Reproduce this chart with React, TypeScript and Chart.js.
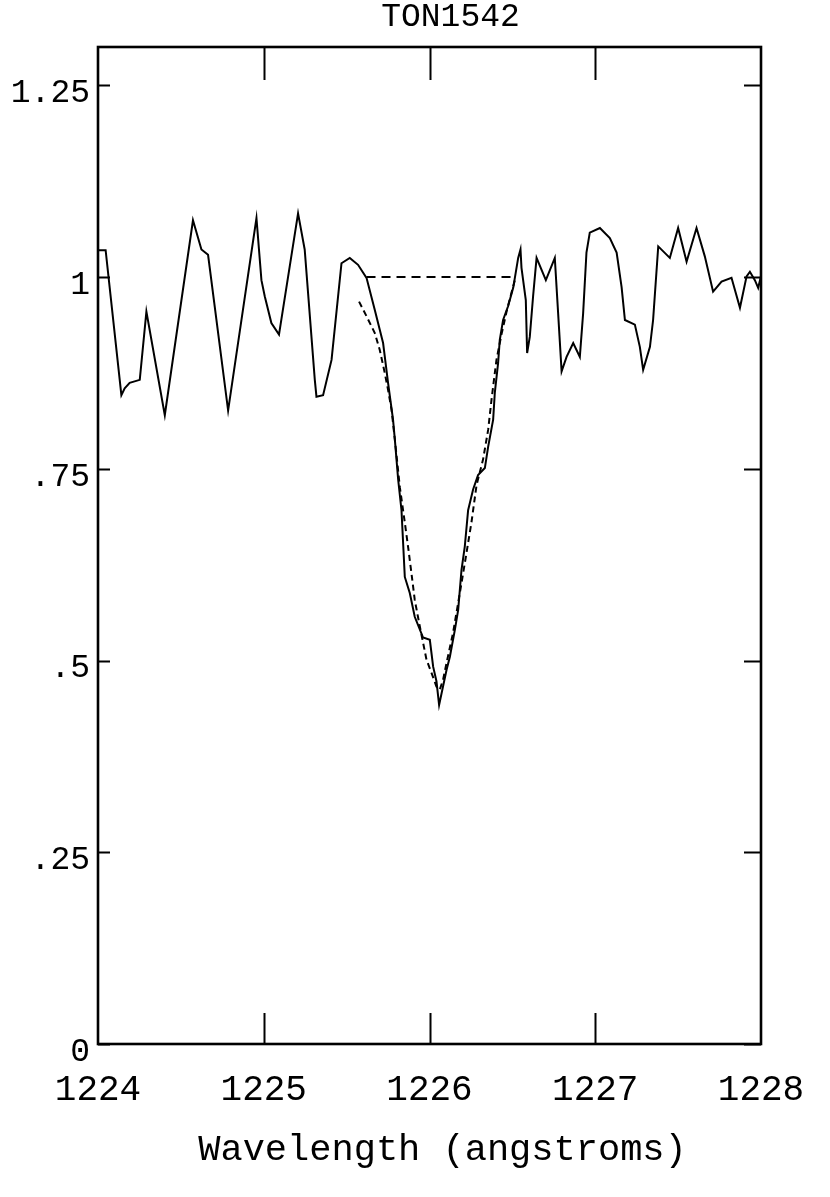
import React, { useEffect, useRef } from 'react';
import { Chart, registerables } from 'chart.js';

Chart.register(...registerables);

const chartTitle = 'TON1542';
const xAxisTitle = 'Wavelength (angstroms)';
const xTickValues = [1224, 1225, 1226, 1227, 1228];
const yTickValues = [0, 0.25, 0.5, 0.75, 1, 1.25];
const yTickLabels = ['0', '.25', '.5', '.75', '1', '1.25'];

const specWave = [
  1224.000, 1224.046, 1224.141, 1224.161, 1224.191, 1224.252, 1224.292, 1224.403, 1224.573, 1224.624,
  1224.664, 1224.785, 1224.956, 1224.986, 1225.006, 1225.046, 1225.092, 1225.207, 1225.247, 1225.308,
  1225.318, 1225.358, 1225.409, 1225.469, 1225.519, 1225.569, 1225.620, 1225.670, 1225.720, 1225.750,
  1225.780, 1225.791, 1225.811, 1225.831, 1225.851, 1225.881, 1225.911, 1225.961, 1226.002, 1226.022,
  1226.042, 1226.058, 1226.103, 1226.123, 1226.153, 1226.173, 1226.193, 1226.213, 1226.233, 1226.263,
  1226.293, 1226.334, 1226.354, 1226.384, 1226.394, 1226.414, 1226.424, 1226.444, 1226.474, 1226.505,
  1226.535, 1226.549, 1226.555, 1226.581, 1226.589, 1226.605, 1226.625, 1226.646, 1226.702, 1226.756,
  1226.776, 1226.797, 1226.827, 1226.867, 1226.907, 1226.927, 1226.947, 1226.967, 1227.028, 1227.088,
  1227.129, 1227.159, 1227.179, 1227.239, 1227.269, 1227.289, 1227.330, 1227.349, 1227.380, 1227.450,
  1227.500, 1227.551, 1227.611, 1227.661, 1227.711, 1227.762, 1227.822, 1227.873, 1227.913, 1227.933,
  1227.963, 1227.983, 1228.000,
];
const specFlux = [
  1.035, 1.035, 0.846, 0.855, 0.862, 0.866, 0.955, 0.820, 1.074, 1.036,
  1.029, 0.826, 1.077, 0.996, 0.975, 0.940, 0.925, 1.083, 1.036, 0.866,
  0.844, 0.846, 0.892, 1.018, 1.025, 1.016, 0.999, 0.957, 0.914, 0.862,
  0.814, 0.788, 0.736, 0.696, 0.609, 0.588, 0.557, 0.530, 0.527, 0.492,
  0.473, 0.442, 0.488, 0.505, 0.540, 0.566, 0.618, 0.649, 0.696, 0.723,
  0.742, 0.751, 0.779, 0.814, 0.849, 0.888, 0.918, 0.944, 0.962, 0.986,
  1.025, 1.036, 1.012, 0.970, 0.901, 0.922, 0.975, 1.025, 0.996, 1.025,
  0.953, 0.877, 0.896, 0.914, 0.896, 0.953, 1.032, 1.058, 1.064, 1.051,
  1.032, 0.987, 0.944, 0.938, 0.909, 0.879, 0.909, 0.944, 1.040, 1.025,
  1.064, 1.020, 1.064, 1.027, 0.981, 0.994, 0.999, 0.960, 1.001, 1.007,
  0.996, 0.986, 1.001,
];

const fitWave = [
  1225.575, 1225.620, 1225.670, 1225.700, 1225.730, 1225.750, 1225.771, 1225.791, 1225.821, 1225.851,
  1225.871, 1225.891, 1225.911, 1225.942, 1225.982, 1226.012, 1226.042, 1226.062, 1226.082, 1226.103,
  1226.142, 1226.183, 1226.223, 1226.253, 1226.284, 1226.323, 1226.354, 1226.374, 1226.404, 1226.434,
  1226.465, 1226.495, 1226.515,
];
const fitFlux = [
  0.968, 0.949, 0.927, 0.905, 0.875, 0.853, 0.827, 0.788, 0.726, 0.680,
  0.648, 0.614, 0.579, 0.544, 0.501, 0.484, 0.466, 0.462, 0.475, 0.497,
  0.536, 0.588, 0.640, 0.680, 0.729, 0.762, 0.801, 0.840, 0.892, 0.925,
  0.955, 0.980, 0.996,
];

const contWave = [1225.62, 1226.515];
const contFlux = [1.0, 1.0];

const FONT = '"Liberation Mono", "DejaVu Sans Mono", monospace';

const framePlugin = {
  id: 'framePlugin',
  afterDraw(chart: any) {
    const { ctx, chartArea, scales } = chart;
    const { left, right, top, bottom } = chartArea;
    const x = scales.x;
    const y = scales.y;
    ctx.save();
    ctx.strokeStyle = '#000';
    ctx.lineWidth = 2;
    ctx.beginPath();
    for (const v of xTickValues) {
      if (v === xTickValues[0] || v === xTickValues[xTickValues.length - 1]) continue;
      const px = Math.round(x.getPixelForValue(v)) + 0.5;
      ctx.moveTo(px, bottom);
      ctx.lineTo(px, bottom - 31);
      ctx.moveTo(px, top);
      ctx.lineTo(px, top + 33);
    }
    for (const v of yTickValues) {
      const py = Math.round(y.getPixelForValue(v)) + 0.5;
      ctx.moveTo(left, py);
      ctx.lineTo(left + 12, py);
      ctx.moveTo(right, py);
      ctx.lineTo(right - 17, py);
    }
    ctx.stroke();
    ctx.lineWidth = 2.6;
    ctx.strokeRect(left, top, right - left, bottom - top);

    ctx.fillStyle = '#000';
    ctx.textAlign = 'center';
    ctx.textBaseline = 'middle';
    ctx.font = `33px ${FONT}`;
    ctx.fillText(chartTitle, (left + right) / 2 + 21, 17);
    ctx.font = `37px ${FONT}`;
    ctx.fillText(xAxisTitle, (left + right) / 2 + 13, 1150);
    ctx.restore();
  },
};

export default function App() {
  const canvasRef = useRef<HTMLCanvasElement | null>(null);

  useEffect(() => {
    const canvas = canvasRef.current;
    if (!canvas) return;
    const line = (w: number[], f: number[]) => w.map((xv, i) => ({ x: xv, y: f[i] }));
    const chart = new Chart(canvas, {
      type: 'line',
      data: {
        datasets: [
          {
            label: 'spectrum',
            data: line(specWave, specFlux),
            borderColor: '#000',
            borderWidth: 2,
            pointRadius: 0,
            tension: 0,
            fill: false,
          },
          {
            label: 'fit',
            data: line(fitWave, fitFlux),
            borderColor: '#000',
            borderWidth: 2,
            borderDash: [6, 4],
            pointRadius: 0,
            tension: 0,
            fill: false,
          },
          {
            label: 'continuum',
            data: line(contWave, contFlux),
            borderColor: '#000',
            borderWidth: 2,
            borderDash: [9, 6],
            pointRadius: 0,
            tension: 0,
            fill: false,
          },
        ],
      },
      options: {
        responsive: false,
        animation: false,
        devicePixelRatio: 1,
        layout: { padding: { top: 47, right: 69, left: 0, bottom: 0 } },
        plugins: {
          legend: { display: false },
          title: { display: false },
          tooltip: { enabled: false },
        },
        scales: {
          x: {
            type: 'linear',
            min: 1224,
            max: 1228,
            afterBuildTicks: (s: any) => {
              s.ticks = xTickValues.map((v) => ({ value: v }));
            },
            afterFit: (s: any) => {
              s.height = 153;
              s.paddingLeft = 0;
              s.paddingRight = 0;
            },
            grid: { display: false, drawTicks: false },
            border: { display: false },
            ticks: {
              color: '#000',
              font: { family: FONT, size: 36, lineHeight: 1 },
              padding: 28,
              maxRotation: 0,
              autoSkip: false,
              callback: (v: any) => String(v),
            },
          },
          y: {
            type: 'linear',
            min: 0,
            max: 1.3,
            afterBuildTicks: (s: any) => {
              s.ticks = yTickValues.map((v) => ({ value: v }));
            },
            afterFit: (s: any) => {
              s.width = 98;
              s.paddingTop = 0;
              s.paddingBottom = 0;
            },
            grid: { display: false, drawTicks: false },
            border: { display: false },
            ticks: {
              color: '#000',
              font: { family: FONT, size: 33, lineHeight: 1 },
              padding: 8,
              labelOffset: 8,
              autoSkip: false,
              callback: (_v: any, i: number) => yTickLabels[i],
            },
          },
        },
      },
      plugins: [framePlugin],
    } as any);
    return () => chart.destroy();
  }, []);

  return (
    <div style={{ position: 'absolute', left: 0, top: 0, width: 830, height: 1197, background: '#fff' }}>
      <canvas ref={canvasRef} width={830} height={1197} style={{ display: 'block', width: 830, height: 1197 }} />
    </div>
  );
}
